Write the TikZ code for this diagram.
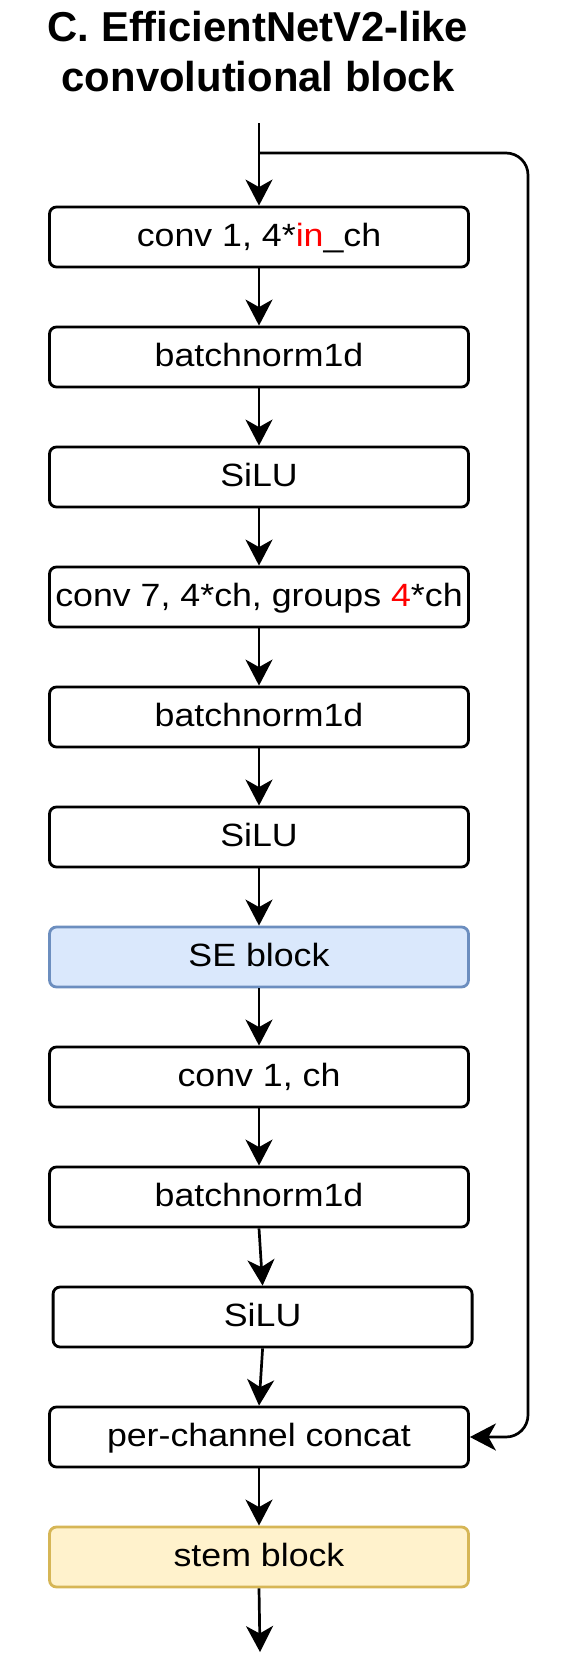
\documentclass[tikz,border=0pt]{standalone}
\usepackage{fontspec}
\setmainfont{Liberation Sans}
\newfontfamily\boxfont[FakeStretch=1.11]{Liberation Sans}
\usetikzlibrary{arrows.meta}
\definecolor{seFill}{HTML}{DAE8FC}
\definecolor{seDraw}{HTML}{6C8EBF}
\definecolor{stemFill}{HTML}{FFF2CC}
\definecolor{stemDraw}{HTML}{D6B656}
\definecolor{hl}{HTML}{FF0000}
\begin{document}
\begin{tikzpicture}[x=1pt,y=-1pt,
  blk/.style={draw=black, line width=2.8pt, rounded corners=7pt,
    minimum width=419pt, minimum height=60pt, inner sep=0pt,
    text height=24pt, text depth=4.4pt, fill=white,
    font=\boxfont\fontsize{32.2}{38}\selectfont},
  seblk/.style={blk, fill=seFill, draw=seDraw},
  stemblk/.style={blk, fill=stemFill, draw=stemDraw},
  ttl/.style={anchor=base, inner sep=0pt, font=\bfseries\fontsize{41.8}{50}\selectfont},
  arr/.style={line width=2.7pt, -{Stealth[length=26pt,width=27pt,inset=7.5pt]}},
  skipline/.style={arr, rounded corners=22pt}
]
\useasboundingbox (0,0) rectangle (563,1665);
\node[ttl] (t1) at (258,41.7) {C. EfficientNetV2-like};
\node[ttl] (t2) at (258,91.7) {convolutional block};

\node[blk] (b0) at (259,237) {conv 1, 4*\textcolor{hl}{in}\_ch};
\node[blk] (b1) at (259,357) {batchnorm1d};
\node[blk] (b2) at (259,477) {SiLU};
\node[blk] (b3) at (259,597) {conv 7, 4*ch, groups \textcolor{hl}{4}*ch};
\node[blk] (b4) at (259,717) {batchnorm1d};
\node[blk] (b5) at (259,837) {SiLU};
\node[seblk] (b6) at (259,957) {SE block};
\node[blk] (b7) at (259,1077) {conv 1, ch};
\node[blk] (b8) at (259,1197) {batchnorm1d};
\node[blk] (b9) at (262.6,1317) {SiLU};
\node[blk] (b10) at (259,1437) {per-channel concat};
\node[stemblk] (b11) at (259,1557) {stem block};

\coordinate (in) at (259,123);
\coordinate (sk) at (259,153);
\coordinate (skA) at (528,153);
\coordinate (skB) at (528,1437);
\coordinate (out) at (260,1652);

\draw[arr] (in) -- (b0.north);
\draw[arr] (b0) -- (b1);
\draw[arr] (b1) -- (b2);
\draw[arr] (b2) -- (b3);
\draw[arr] (b3) -- (b4);
\draw[arr] (b4) -- (b5);
\draw[arr] (b5) -- (b6);
\draw[arr] (b6) -- (b7);
\draw[arr] (b7) -- (b8);
\draw[arr] (b8.south) -- (b9.north);
\draw[arr] (b9.south) -- (b10.north);
\draw[arr] (b10) -- (b11);
\draw[arr] (b11.south) -- (out);
\draw[skipline] (sk) -- (skA) -- (skB) -- (b10.east);
\end{tikzpicture}
\end{document}
